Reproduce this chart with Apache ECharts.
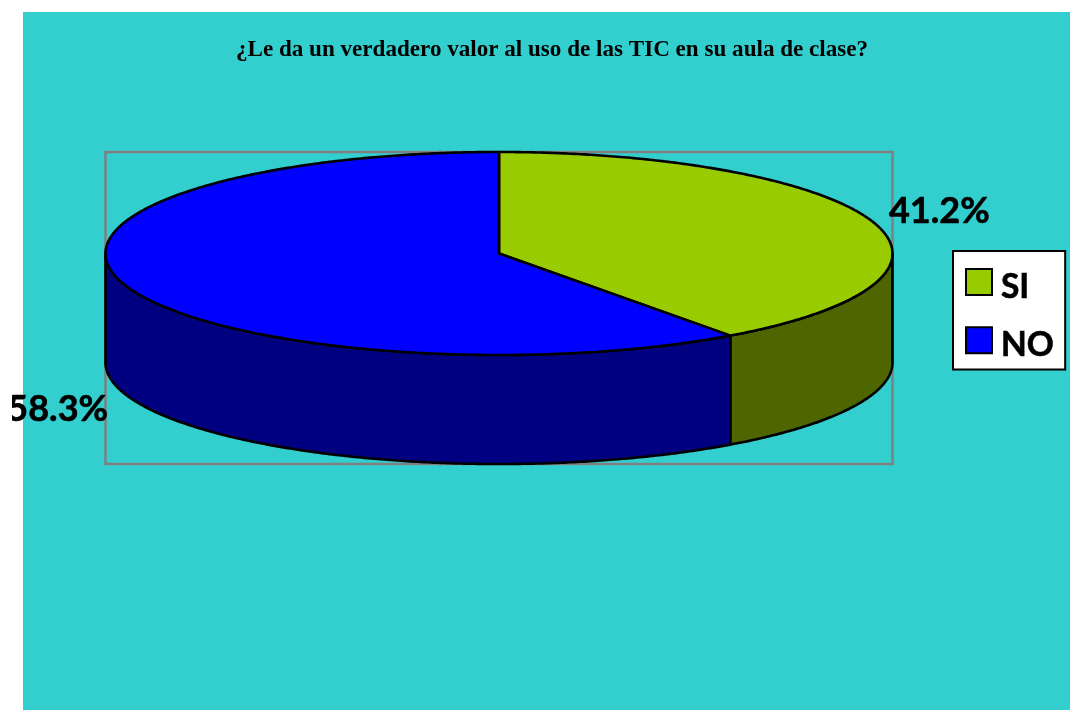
<!DOCTYPE html>
<html>
<head>
<meta charset="utf-8">
<style>html,body{margin:0;padding:0;background:#fff}#c{width:1070px;height:710px}</style>
<script src="https://cdn.jsdelivr.net/npm/echarts@6/dist/echarts.min.js"></script>
</head>
<body>
<div id="c"></div>
<script>
// Chart text
const chartTitle = '¿Le da un verdadero valor al uso de las TIC en su aula de clase?';
const categories = ['SI', 'NO'];
// Printed data labels
const labelValues = [41.2, 58.3];
// Share of the circle each slice occupies as drawn
const sliceShares = [40, 60];
const topColors = ['#99CC00', '#0000FF'];
const sideColors = ['#4D6600', '#000080'];

const rimBottom = 2.074;       // lower rim offset in y-axis units
const labelAnchors = [[0.991, -0.429, 'left'], [-0.9936, 1.522, 'right']];
const total = sliceShares.reduce((a, b) => a + b, 0);
const starts = sliceShares.map((_, i) => sliceShares.slice(0, i).reduce((a, b) => a + b, 0));

function rimPoint(api, turn, drop) {
  const t = turn * 2 * Math.PI;
  return api.coord([Math.sin(t), -Math.cos(t) + drop]);
}
function arc(api, a, b, drop) {
  const pts = [], n = Math.max(2, Math.ceil(Math.abs(b - a) * 720));
  for (let i = 0; i <= n; i++) pts.push(rimPoint(api, a + (b - a) * i / n, drop));
  return pts;
}
const lineStyle = { stroke: '#000', lineWidth: 2.6, lineJoin: 'round' };

function renderSlice(idx) {
  return function (params, api) {
    const a = api.value(0) / total, b = (api.value(0) + api.value(1)) / total;
    const children = [];
    const wa = Math.max(a, 0.25), wb = Math.min(b, 0.75);
    if (wb > wa) {
      const rimDrop = rimBottom - 1;
      children.push({
        type: 'polygon', z2: 1,
        shape: { points: arc(api, wa, wb, 0).concat(arc(api, wb, wa, rimDrop)) },
        style: Object.assign({ fill: sideColors[idx] }, lineStyle)
      });
    }
    children.push({
      type: 'polygon', z2: 2,
      shape: { points: [api.coord([0, 0])].concat(arc(api, a, b, 0)) },
      style: Object.assign({ fill: topColors[idx] }, lineStyle)
    });
    const la = labelAnchors[idx], p = api.coord([la[0], la[1]]);
    children.push({
      type: 'group', z2: 5,
      clipPath: { type: 'rect', shape: { x: 12, y: 0, width: 1058, height: 710 } },
      children: [{
        type: 'text', z2: 5,
        style: {
          x: p[0], y: p[1] + 1, text: labelValues[idx].toFixed(1) + '%',
          fill: '#000', textAlign: la[2], textVerticalAlign: 'middle',
          font: 'bold 36px Lato', stroke: '#000', lineWidth: 0.6
        }
      }]
    });
    return { type: 'group', children };
  };
}

const chart = echarts.init(document.getElementById('c'), null, { renderer: 'canvas' });
chart.setOption({
  animation: false,
  backgroundColor: '#fff',
  graphic: [{
    type: 'rect', z: -1, silent: true,
    shape: { x: 23, y: 12, width: 1047, height: 698 },
    style: { fill: '#33CFCF' }
  }],
  title: {
    text: chartTitle, left: 547, top: 34, textAlign: 'center',
    textStyle: { fontFamily: 'Liberation Serif', fontWeight: 'bold', fontSize: 23.1, color: '#000' }
  },
  grid: {
    show: true, left: 105.5, top: 152, width: 787, height: 312,
    borderColor: '#808080', borderWidth: 2.5, backgroundColor: 'transparent'
  },
  xAxis: { type: 'value', min: -1, max: 1, show: false },
  yAxis: { type: 'value', min: -1, max: rimBottom + 0, inverse: true, show: false },
  legend: {
    orient: 'vertical', left: 953, top: 251,
    data: categories.map(name => ({ name, icon: 'rect' })),
    itemWidth: 26, itemHeight: 26, itemGap: 22, padding: [17, 11, 7, 12],
    backgroundColor: '#fff', borderColor: '#000', borderWidth: 2,
    selectedMode: false,
    formatter: '{t|{name}}',
    textStyle: {
      rich: { t: {
        fontFamily: 'Lato', fontWeight: 'bold', fontSize: 33.5, color: '#000',
        padding: [10, 0, 0, 4], textBorderColor: '#000', textBorderWidth: 0.6
      } }
    }
  },
  series: categories.map((name, i) => ({
    type: 'custom', name, coordinateSystem: 'cartesian2d', clip: false, z: 3,
    itemStyle: { color: topColors[i], borderColor: '#000', borderWidth: 2 },
    encode: { x: 0, y: 1 },
    data: [[starts[i], sliceShares[i]]],
    renderItem: renderSlice(i)
  }))
});
</script>
</body>
</html>
